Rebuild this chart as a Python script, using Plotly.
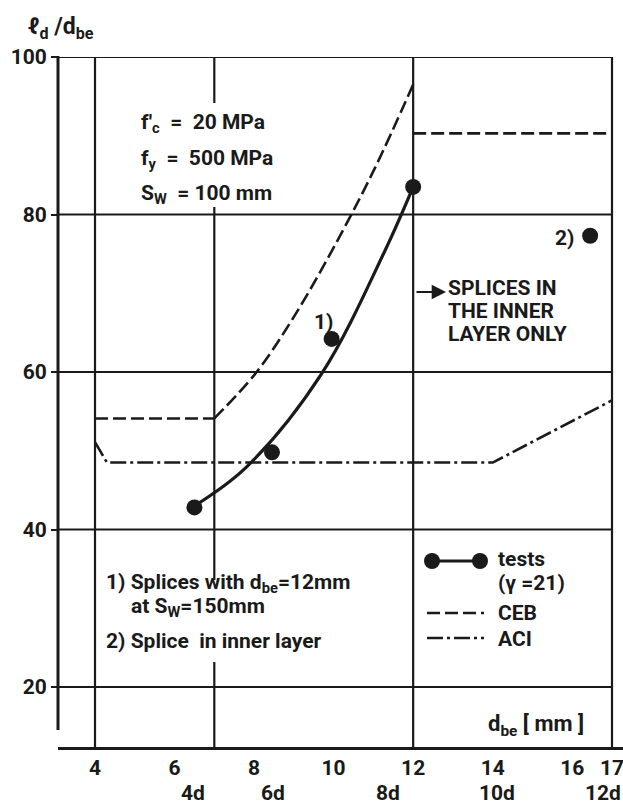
import plotly.graph_objects as go

# ---------------- data ----------------
tests_x = [6.5, 8.45, 9.95, 12.0]
tests_y = [42.8, 49.8, 64.2, 83.5]

fit_x = [6.5, 7.8, 9.7, 11.3, 12.0]
fit_y = [43.0, 47.9, 59.8, 75.5, 83.5]

inner_x = [16.45]
inner_y = [77.3]

ceb_flat_x = [4.0, 7.0]
ceb_flat_y = [54.1, 54.1]
ceb_curve_x = [7.0, 8.05, 9.0, 10.0, 11.0, 12.0]
ceb_curve_y = [54.1, 59.9, 67.0, 75.8, 85.5, 96.5]
ceb_top_x = [12.0, 17.0]
ceb_top_y = [90.3, 90.3]

aci_x = [4.0, 4.3, 14.0, 17.0]
aci_y = [51.1, 48.5, 48.5, 56.4]

x_tickvals = [4, 6, 8, 10, 12, 14, 16, 17]
x_ticktext = ["4", "6", "8", "10", "12", "14", "16", "17"]
y_tickvals = [20, 40, 60, 80, 100]
y_ticktext = ["20", "40", "60", "80", "100"]
lap_pos = [6.46, 8.48, 11.37, 14.1, 16.78]
lap_text = ["4d", "6d", "8d", "10d", "12d"]
grid_x = [4, 7, 12, 17]
grid_y = [20, 40, 60, 80, 100]

# ---------------- geometry ----------------
W, H = 623, 810
L, R, T, B = 58, 0, 57, 63
PW, PH = W - L - R, H - T - B


def xd(px):
    return 4 + (px - 95) / 39.77


def yd(py):
    return 100 - (py - 57) / 7.875


def xp(px):
    return (px - L) / PW


def yp(py):
    return (H - B - py) / PH


XR = [xd(L), xd(W - R)]
YR = [yd(H - B), 100]

FONT = "Roboto, Arial, sans-serif"
INK = "#1a1a1a"
FS = 21

fig = go.Figure()

# CEB
for xs, ys, shp in [(ceb_flat_x, ceb_flat_y, "linear"),
                    (ceb_curve_x, ceb_curve_y, "spline"),
                    (ceb_top_x, ceb_top_y, "linear")]:
    fig.add_trace(go.Scatter(x=xs, y=ys, mode="lines", line_shape=shp,
                             line=dict(color=INK, width=2.6, dash="13px,5px"),
                             showlegend=False, hoverinfo="skip"))
# ACI
fig.add_trace(go.Scatter(x=aci_x, y=aci_y, mode="lines",
                         line=dict(color=INK, width=2.6, dash="16px,4px,3px,4px"),
                         showlegend=False, hoverinfo="skip"))
# test curve
fig.add_trace(go.Scatter(x=fit_x, y=fit_y, mode="lines", line_shape="spline",
                         line=dict(color=INK, width=3.2),
                         showlegend=False, hoverinfo="skip"))
# test points
fig.add_trace(go.Scatter(x=tests_x + inner_x, y=tests_y + inner_y, mode="markers",
                         marker=dict(color=INK, size=16),
                         showlegend=False, hoverinfo="skip"))

# legend samples
fig.add_trace(go.Scatter(x=[xd(432), xd(480)], y=[yd(561), yd(561)], mode="lines+markers",
                         line=dict(color=INK, width=3), marker=dict(color=INK, size=16),
                         showlegend=False, hoverinfo="skip"))
fig.add_trace(go.Scatter(x=[xd(427), xd(484)], y=[yd(613), yd(613)], mode="lines",
                         line=dict(color=INK, width=2.6, dash="13px,5px"),
                         showlegend=False, hoverinfo="skip"))
fig.add_trace(go.Scatter(x=[xd(427), xd(484)], y=[yd(638), yd(638)], mode="lines",
                         line=dict(color=INK, width=2.6, dash="16px,4px,3px,4px"),
                         showlegend=False, hoverinfo="skip"))

shapes = []
for gy in grid_y:
    shapes.append(dict(type="line", xref="paper", yref="y", x0=0, x1=xp(612),
                       y0=gy, y1=gy, line=dict(color=INK, width=2), layer="below"))
for gx in grid_x:
    shapes.append(dict(type="line", xref="x", yref="paper", x0=gx, x1=gx,
                       y0=0, y1=yp(57), line=dict(color=INK, width=2.2), layer="below"))
# white masks behind the text blocks
shapes.append(dict(type="rect", xref="paper", yref="paper", x0=xp(135), x1=xp(300),
                   y0=yp(207), y1=yp(103), fillcolor="white", line_width=0, layer="below"))
shapes.append(dict(type="rect", xref="paper", yref="paper", x0=xp(100), x1=xp(385),
                   y0=yp(662), y1=yp(580), fillcolor="white", line_width=0, layer="below"))
# y axis line (stops short of the x axis)
shapes.append(dict(type="line", xref="paper", yref="paper", x0=0, x1=0,
                   y0=yp(730), y1=yp(56), line=dict(color=INK, width=3)))
fig.update_layout(shapes=shapes)

ann = []


def txt(t, px, py, size=FS, xanchor="left"):
    ann.append(dict(text=t, x=xp(px), y=yp(py), xref="paper", yref="paper",
                    xanchor=xanchor, yanchor="middle", showarrow=False,
                    font=dict(family=FONT, size=size, color=INK, weight="bold")))


txt("ℓ<sub>d</sub> /d<sub>be</sub>", 26, 28, 23)
txt("f'<sub>c</sub>  =  20 MPa", 139, 123)
txt("f<sub>y</sub>  =  500 MPa", 139, 160)
txt("S<sub>W</sub>  = 100 mm", 139, 195)
txt("1)", 312, 322)
txt("2)", 553, 238)
txt("SPLICES IN", 446, 288)
txt("THE INNER", 446, 311)
txt("LAYER ONLY", 446, 334)
txt("1) Splices with d<sub>be</sub>=12mm", 104, 583)
txt("at S<sub>W</sub>=150mm", 129, 607)
txt("2) Splice  in inner layer", 104, 641)
txt("tests", 496, 559)
txt("(γ =21)", 496, 583)
txt("CEB", 496, 613)
txt("ACI", 496, 639)
txt("d<sub>be</sub> [ mm ]", 486, 725, 22)
for pos, t in zip(lap_pos, lap_text):
    ann.append(dict(text=t, x=pos, y=yp(793), xref="x", yref="paper",
                    xanchor="center", yanchor="middle", showarrow=False,
                    font=dict(family=FONT, size=FS, color=INK, weight="bold")))
# arrow pointing to the "SPLICES" note
ann.append(dict(text="", x=xd(446), y=yd(292), xref="x", yref="y",
                ax=xd(415), ay=yd(292), axref="x", ayref="y", showarrow=True,
                arrowhead=2, arrowsize=1.3, arrowwidth=2.2, arrowcolor=INK))
fig.update_layout(annotations=ann)

fig.update_layout(
    width=W, height=H,
    margin=dict(l=L, r=R, t=T, b=B),
    paper_bgcolor="white", plot_bgcolor="white",
    xaxis=dict(range=XR, showgrid=False, zeroline=False,
               showline=True, linecolor=INK, linewidth=3,
               tickmode="array", tickvals=x_tickvals, ticktext=x_ticktext,
               ticks="", ticklabelstandoff=0, ticklabeloverflow="allow",
               tickfont=dict(family=FONT, size=FS, color=INK, weight="bold")),
    yaxis=dict(range=YR, showgrid=False, zeroline=False, showline=False,
               tickmode="array", tickvals=y_tickvals, ticktext=y_ticktext,
               ticks="outside", ticklen=6, tickwidth=2, tickcolor=INK,
               tickfont=dict(family=FONT, size=FS, color=INK, weight="bold")),
    showlegend=False,
)

fig.write_html("out.html")
